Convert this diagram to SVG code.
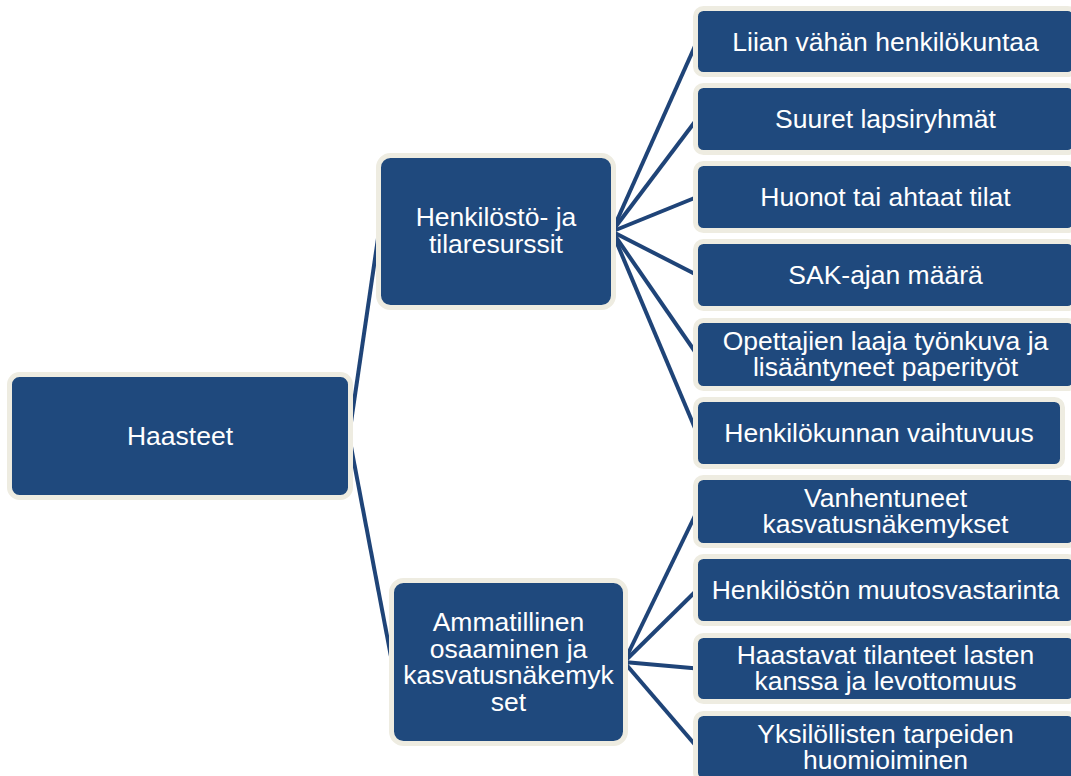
<svg xmlns="http://www.w3.org/2000/svg" width="1071" height="776" viewBox="0 0 1071 776">
<style>
.box{fill:#1F497D;stroke:#EEECE1;stroke-width:5}
.t{font-family:"Liberation Sans",Arial,sans-serif;font-size:26.5px;fill:#FFFFFF;text-anchor:middle}
.c{stroke:#1F4478;stroke-width:4;fill:none;stroke-linecap:butt}
</style>
<rect width="1071" height="776" fill="#FFFFFF"/>
<g id="connectors">
<line class="c" x1="349" y1="436" x2="379" y2="231.5"/>
<line class="c" x1="349" y1="436" x2="392" y2="662"/>
<line class="c" x1="612" y1="231.5" x2="697" y2="41.5"/>
<line class="c" x1="612" y1="231.5" x2="697" y2="119"/>
<line class="c" x1="612" y1="231.5" x2="697" y2="197"/>
<line class="c" x1="612" y1="231.5" x2="697" y2="275"/>
<line class="c" x1="612" y1="231.5" x2="697" y2="354.5"/>
<line class="c" x1="612" y1="231.5" x2="697" y2="433"/>
<line class="c" x1="624" y1="662" x2="697" y2="511.5"/>
<line class="c" x1="624" y1="662" x2="697" y2="590"/>
<line class="c" x1="624" y1="662" x2="697" y2="668.5"/>
<line class="c" x1="624" y1="662" x2="697" y2="747"/>
</g>
<g id="haasteet">
<rect class="box" x="9.5" y="374.5" width="341" height="123" rx="10"/>
<text class="t" x="180" y="445">Haasteet</text>
</g>
<g id="henkilosto">
<rect class="box" x="378.5" y="155.5" width="235" height="152" rx="12"/>
<text class="t" x="496" y="226">Henkilöstö- ja</text>
<text class="t" x="496" y="253">tilaresurssit</text>
</g>
<g id="ammatillinen">
<rect class="box" x="391.5" y="580.5" width="234" height="163" rx="12"/>
<text class="t" x="508.5" y="631">Ammatillinen</text>
<text class="t" x="508.5" y="657.5">osaaminen ja</text>
<text class="t" x="508.5" y="684">kasvatusnäkemyk</text>
<text class="t" x="508.5" y="710.5">set</text>
</g>
<g id="n1">
<rect class="box" x="695.5" y="8.5" width="380" height="66" rx="8"/>
<text class="t" x="885.5" y="50.5">Liian vähän henkilökuntaa</text>
</g>
<g id="n2">
<rect class="box" x="695.5" y="85.5" width="380" height="67" rx="8"/>
<text class="t" x="885.5" y="128">Suuret lapsiryhmät</text>
</g>
<g id="n3">
<rect class="box" x="695.5" y="163.5" width="380" height="67" rx="8"/>
<text class="t" x="885.5" y="206">Huonot tai ahtaat tilat</text>
</g>
<g id="n4">
<rect class="box" x="695.5" y="241.5" width="380" height="67" rx="8"/>
<text class="t" x="885.5" y="284">SAK-ajan määrä</text>
</g>
<g id="n5">
<rect class="box" x="695.5" y="320.5" width="380" height="68" rx="8"/>
<text class="t" x="885.5" y="350">Opettajien laaja työnkuva ja</text>
<text class="t" x="885.5" y="376">lisääntyneet paperityöt</text>
</g>
<g id="n6">
<rect class="box" x="695.5" y="399.5" width="367" height="67" rx="8"/>
<text class="t" x="879" y="442">Henkilökunnan vaihtuvuus</text>
</g>
<g id="n7">
<rect class="box" x="695.5" y="477.5" width="380" height="68" rx="8"/>
<text class="t" x="885.5" y="507">Vanhentuneet</text>
<text class="t" x="885.5" y="533">kasvatusnäkemykset</text>
</g>
<g id="n8">
<rect class="box" x="695.5" y="556.5" width="380" height="67" rx="8"/>
<text class="t" x="885.5" y="599">Henkilöstön muutosvastarinta</text>
</g>
<g id="n9">
<rect class="box" x="695.5" y="635.5" width="380" height="66" rx="8"/>
<text class="t" x="885.5" y="664">Haastavat tilanteet lasten</text>
<text class="t" x="885.5" y="690">kanssa ja levottomuus</text>
</g>
<g id="n10">
<rect class="box" x="695.5" y="713.5" width="380" height="67" rx="8"/>
<text class="t" x="885.5" y="742.5">Yksilöllisten tarpeiden</text>
<text class="t" x="885.5" y="768.5">huomioiminen</text>
</g>
</svg>
